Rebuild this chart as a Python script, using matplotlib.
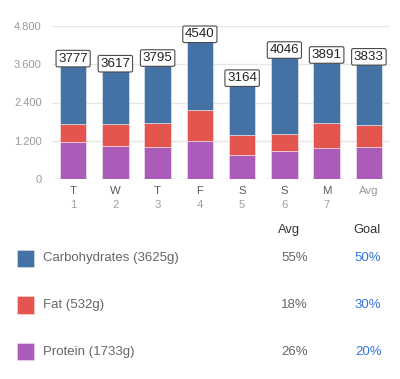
import matplotlib
matplotlib.use("Agg")
import matplotlib.pyplot as plt
from matplotlib.patches import Rectangle
import matplotlib.transforms as mtransforms
from matplotlib.ticker import FuncFormatter

plt.rcParams['font.family'] = ['Liberation Sans', 'DejaVu Sans']

days = ['T', 'W', 'T', 'F', 'S', 'S', 'M', 'Avg']
day_nums = ['1', '2', '3', '4', '5', '6', '7', '']
protein = [1170, 1045, 1004, 1182, 763, 868, 983, 1004]
fat = [555, 670, 753, 983, 617, 544, 784, 690]
carbs = [2052, 1902, 2038, 2375, 1784, 2634, 2124, 2139]
yticks = [0, 1200, 2400, 3600, 4800]

legend_labels = ['Carbohydrates (3625g)', 'Fat (532g)', 'Protein (1733g)']
avg_pct = ['55%', '18%', '26%']
goal_pct = ['50%', '30%', '20%']

c_carb = '#4472a5'
c_fat = '#e5554f'
c_prot = '#ab5bb8'
colors = [c_carb, c_fat, c_prot]

W, H = 400, 379
fig = plt.figure(figsize=(4, 3.79), dpi=100)
ax = fig.add_axes([52 / W, 1 - 179 / H, 338 / W, 153 / H])

x = list(range(len(days)))
bw = 0.63
edge = (1, 1, 1, 0.45)
ax.bar(x, protein, width=bw, color=c_prot, edgecolor=edge, linewidth=0.7, zorder=2)
bottom2 = protein
ax.bar(x, fat, width=bw, bottom=bottom2, color=c_fat, edgecolor=edge, linewidth=0.7, zorder=2)
bottom3 = [p + f for p, f in zip(protein, fat)]
ax.bar(x, carbs, width=bw, bottom=bottom3, color=c_carb, edgecolor=edge, linewidth=0.7, zorder=2)

totals = [b + c for b, c in zip(bottom3, carbs)]
for xi, t in zip(x, totals):
    ax.text(xi, t, f'{t}', ha='center', va='center', fontsize=9.6, color='#222222',
            zorder=5, clip_on=False,
            bbox=dict(boxstyle='round,pad=0.17,rounding_size=0.12', fc='white',
                      ec='#4a4a4a', lw=0.8))

ax.set_xlim(-0.5, 7.5)
ax.set_ylim(0, 4800)
ax.set_yticks(yticks)
ax.yaxis.set_major_formatter(FuncFormatter(lambda v, p: f'{int(v):,}'.replace(',', '.')))
ax.tick_params(axis='y', length=0, pad=7.5, labelsize=8, labelcolor='#9a9a9a')
ax.set_xticks([])
for s in ax.spines.values():
    s.set_visible(False)
ax.yaxis.grid(True, color='#e6e6e6', linewidth=1.0)
ax.set_axisbelow(True)

trans = mtransforms.blended_transform_factory(ax.transData, ax.transAxes)
for xi, d, n in zip(x, days, day_nums):
    col = '#9a9a9a' if d == 'Avg' else '#5a5a5a'
    ax.text(xi, -12.5 / 153, d, transform=trans, ha='center', va='center',
            fontsize=8.2, color=col, clip_on=False)
    if n:
        ax.text(xi, -26 / 153, n, transform=trans, ha='center', va='center',
                fontsize=8.2, color='#a0a0a0', clip_on=False)

# table below
def fy(py):
    return 1 - py / H

fig.text(278 / W, fy(229.7), 'Avg', ha='left', va='center', fontsize=9.3, color='#333333')
fig.text(353 / W, fy(229.7), 'Goal', ha='left', va='center', fontsize=9.3, color='#333333')
row_y = [258.3, 305, 351.7]
for lab, a, g, c, ry in zip(legend_labels, avg_pct, goal_pct, colors, row_y):
    fig.patches.append(Rectangle((17 / W, fy(ry + 8.7)), 17.3 / W, 17.3 / H,
                                 transform=fig.transFigure, facecolor=c,
                                 edgecolor=(1, 1, 1, 0.4), linewidth=0.6))
    fig.text(43 / W, fy(ry), lab, ha='left', va='center', fontsize=9.5, color='#666666')
    fig.text(281 / W, fy(ry), a, ha='left', va='center', fontsize=9.5, color='#666666')
    fig.text(381.5 / W, fy(ry), g, ha='right', va='center', fontsize=9.5, color='#3574e8')

fig.savefig('out.png', dpi=100)
